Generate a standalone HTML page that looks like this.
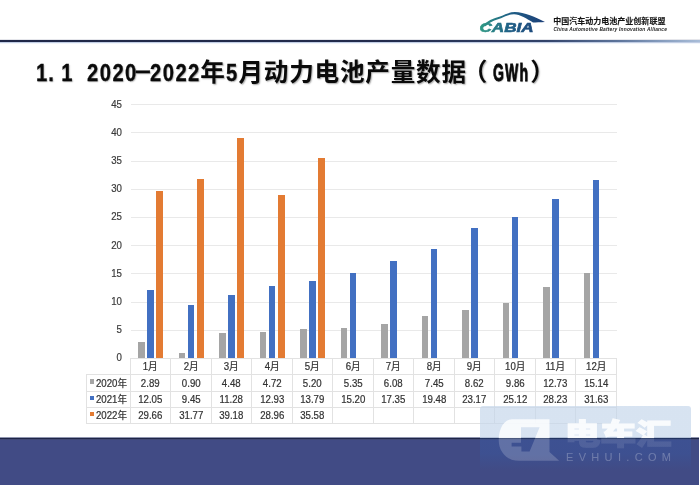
<!DOCTYPE html>
<html lang="zh"><head><meta charset="utf-8"><title>1.1 2020-2022年5月动力电池产量数据（GWh）</title>
<style>
html,body{margin:0;padding:0;}
body{width:700px;height:485px;position:relative;overflow:hidden;background:#fff;font-family:"Liberation Sans","Noto Sans CJK SC",sans-serif;}
.abs{position:absolute;}
.hline{position:absolute;left:0;top:40px;width:700px;height:2px;background:linear-gradient(90deg,#1f2747 0%,#222b4c 55%,#32436a 78%,#5b7299 88%,#8299bb 94%,#a9bdd8 100%);box-shadow:0 -1px 0 rgba(40,50,90,.12),0 1px 0 rgba(70,100,170,.28),0 2px 0 rgba(120,160,220,.1);}
.title{position:absolute;left:35px;top:56px;height:34px;line-height:34px;font-size:24.6px;font-weight:bold;color:#0a0a0a;white-space:nowrap;font-family:"Liberation Sans","Noto Sans CJK SC",sans-serif;text-shadow:1px 1px 1.5px rgba(0,0,0,.35);}
.title span{position:absolute;top:0;display:block;}
.title span.n11::first-letter{letter-spacing:1.21px;margin-right:7.86px;}
.title span.l{font-size:24.6px;transform-origin:0 50%;-webkit-text-stroke:.3px #0a0a0a;}
.ylab{position:absolute;left:100px;width:22px;text-align:right;font-size:10.4px;line-height:12px;color:#3a3a3a;-webkit-text-stroke:.2px #3a3a3a;transform:scaleX(.93);transform-origin:100% 50%;}
.grid{position:absolute;left:131px;width:485.5px;height:1px;background:#e9e9e9;}
.bar{position:absolute;width:6.8px;}
.tl{position:absolute;background:#e2e2e2;}
.cell{position:absolute;text-align:center;font-size:10.4px;line-height:16px;color:#333;white-space:nowrap;-webkit-text-stroke:.22px #333;transform:scaleX(.93);}
.footer{position:absolute;left:0;top:437px;width:698.5px;height:48px;background:linear-gradient(to bottom,#9096b0 0,#9096b0 1px,#1e2547 1px,#1e2547 2px,#424975 2px,#424975 3px,#414b85 3px);}
</style></head><body>

<svg class="abs" style="left:476px;top:8px" width="74" height="28" viewBox="476 8 74 28">
<defs><linearGradient id="lg" x1="480" y1="0" x2="545" y2="0" gradientUnits="userSpaceOnUse"><stop offset="0" stop-color="#2f9a84"/><stop offset=".45" stop-color="#1f5f86"/><stop offset="1" stop-color="#1c3f78"/></linearGradient></defs>
<path d="M482 27 C486 21 494 18 500 16.5 C506 14 510 12 515 12 C524 12.5 536 17 545 22 C540 22.3 536 22.5 533 22.6 C527 18.5 520 14.5 514 14.2 C509 14.3 505 16.5 501 18.3 C495 20 489 22.5 486 26 Z" fill="url(#lg)"/>
<text x="479.5" y="32.2" font-family="Liberation Sans, sans-serif" font-weight="bold" font-style="italic" font-size="12" fill="url(#lg)" stroke="url(#lg)" stroke-width=".55" textLength="54"  lengthAdjust="spacingAndGlyphs">CABIA</text>
</svg>
<div class="abs" style="left:553.2px;top:15.5px;font-size:8.03px;line-height:12px;font-weight:bold;color:#151515;-webkit-text-stroke:.12px #151515;white-space:nowrap;font-family:'Liberation Sans','Noto Sans CJK SC',sans-serif;">中国汽车动力电池产业创新联盟</div>
<div class="abs" style="left:553.4px;top:26px;font-size:4.85px;line-height:7px;font-weight:bold;font-style:italic;color:#222;white-space:nowrap;letter-spacing:.2px;">China Automotive Battery Innovation Alliance</div>
<div class="hline"></div>

<div class="title">
<span class="l n11" style="left:0.74px;transform:scaleX(0.82)">1.1</span>
<span class="l" style="left:51.50px;letter-spacing:1.798px;transform:scaleX(0.82);">2020</span>
<span class="l" style="left:101.03px;transform-origin:50% 50%;transform:scaleX(1.15) translateY(-2.6px)">–</span>
<span class="l" style="left:114.95px;letter-spacing:1.798px;transform:scaleX(0.82);">2022</span>
<span style="left:165.36px;letter-spacing:0.780px">年</span>
<span class="l" style="left:191.09px;letter-spacing:1.798px;transform:scaleX(0.82);">5</span>
<span style="left:203.43px;letter-spacing:0.780px">月</span>
<span style="left:228.81px;letter-spacing:0.780px">动力电池产量数据</span>
<span style="left:427.85px;letter-spacing:0.780px">（</span>
<span class="l" style="left:457.73px;letter-spacing:2.110px;transform:scaleX(0.57);-webkit-text-stroke:.85px #0a0a0a">GWh</span>
<span style="left:495.30px;letter-spacing:0.780px">）</span>
</div>

<div class="ylab" style="top:352.3px">0</div>
<div class="grid" style="top:329.6px"></div>
<div class="ylab" style="top:324.1px">5</div>
<div class="grid" style="top:301.5px"></div>
<div class="ylab" style="top:296.0px">10</div>
<div class="grid" style="top:273.3px"></div>
<div class="ylab" style="top:267.8px">15</div>
<div class="grid" style="top:245.1px"></div>
<div class="ylab" style="top:239.6px">20</div>
<div class="grid" style="top:216.9px"></div>
<div class="ylab" style="top:211.4px">25</div>
<div class="grid" style="top:188.8px"></div>
<div class="ylab" style="top:183.3px">30</div>
<div class="grid" style="top:160.6px"></div>
<div class="ylab" style="top:155.1px">35</div>
<div class="grid" style="top:132.4px"></div>
<div class="ylab" style="top:126.9px">40</div>
<div class="grid" style="top:104.3px"></div>
<div class="ylab" style="top:98.8px">45</div>
<div class="bar" style="left:138.1px;top:342.0px;height:16.3px;background:#a5a5a5"></div>
<div class="bar" style="left:147.2px;top:290.4px;height:67.9px;background:#4270c2"></div>
<div class="bar" style="left:156.2px;top:191.2px;height:167.1px;background:#e37b33"></div>
<div class="bar" style="left:178.6px;top:353.2px;height:5.1px;background:#a5a5a5"></div>
<div class="bar" style="left:187.7px;top:305.1px;height:53.2px;background:#4270c2"></div>
<div class="bar" style="left:196.8px;top:179.3px;height:179.0px;background:#e37b33"></div>
<div class="bar" style="left:219.1px;top:333.1px;height:25.2px;background:#a5a5a5"></div>
<div class="bar" style="left:228.2px;top:294.7px;height:63.6px;background:#4270c2"></div>
<div class="bar" style="left:237.2px;top:137.6px;height:220.7px;background:#e37b33"></div>
<div class="bar" style="left:259.6px;top:331.7px;height:26.6px;background:#a5a5a5"></div>
<div class="bar" style="left:268.7px;top:285.5px;height:72.8px;background:#4270c2"></div>
<div class="bar" style="left:277.8px;top:195.1px;height:163.2px;background:#e37b33"></div>
<div class="bar" style="left:300.1px;top:329.0px;height:29.3px;background:#a5a5a5"></div>
<div class="bar" style="left:309.2px;top:280.6px;height:77.7px;background:#4270c2"></div>
<div class="bar" style="left:318.3px;top:157.8px;height:200.5px;background:#e37b33"></div>
<div class="bar" style="left:340.6px;top:328.2px;height:30.1px;background:#a5a5a5"></div>
<div class="bar" style="left:349.7px;top:272.7px;height:85.6px;background:#4270c2"></div>
<div class="bar" style="left:381.1px;top:324.0px;height:34.3px;background:#a5a5a5"></div>
<div class="bar" style="left:390.2px;top:260.6px;height:97.7px;background:#4270c2"></div>
<div class="bar" style="left:421.6px;top:316.3px;height:42.0px;background:#a5a5a5"></div>
<div class="bar" style="left:430.7px;top:248.5px;height:109.8px;background:#4270c2"></div>
<div class="bar" style="left:462.1px;top:309.7px;height:48.6px;background:#a5a5a5"></div>
<div class="bar" style="left:471.2px;top:227.8px;height:130.5px;background:#4270c2"></div>
<div class="bar" style="left:502.5px;top:302.7px;height:55.6px;background:#a5a5a5"></div>
<div class="bar" style="left:511.6px;top:216.8px;height:141.5px;background:#4270c2"></div>
<div class="bar" style="left:543.0px;top:286.6px;height:71.7px;background:#a5a5a5"></div>
<div class="bar" style="left:552.1px;top:199.3px;height:159.0px;background:#4270c2"></div>
<div class="bar" style="left:583.5px;top:273.0px;height:85.3px;background:#a5a5a5"></div>
<div class="bar" style="left:592.6px;top:180.1px;height:178.2px;background:#4270c2"></div>
<div class="tl" style="left:130.3px;top:357.9px;width:486.0px;height:1px"></div>
<div class="tl" style="left:86px;top:374.2px;width:530.3px;height:1px"></div>
<div class="tl" style="left:86px;top:390.6px;width:530.3px;height:1px"></div>
<div class="tl" style="left:86px;top:407px;width:530.3px;height:1px"></div>
<div class="tl" style="left:86px;top:423.2px;width:530.3px;height:1px"></div>
<div class="tl" style="left:86px;top:374.2px;width:1px;height:50.0px"></div>
<div class="tl" style="left:129.8px;top:357.9px;width:1px;height:66.30000000000001px"></div>
<div class="tl" style="left:170.3px;top:357.9px;width:1px;height:66.30000000000001px"></div>
<div class="tl" style="left:210.8px;top:357.9px;width:1px;height:66.30000000000001px"></div>
<div class="tl" style="left:251.3px;top:357.9px;width:1px;height:66.30000000000001px"></div>
<div class="tl" style="left:291.8px;top:357.9px;width:1px;height:66.30000000000001px"></div>
<div class="tl" style="left:332.3px;top:357.9px;width:1px;height:66.30000000000001px"></div>
<div class="tl" style="left:372.8px;top:357.9px;width:1px;height:66.30000000000001px"></div>
<div class="tl" style="left:413.3px;top:357.9px;width:1px;height:66.30000000000001px"></div>
<div class="tl" style="left:453.8px;top:357.9px;width:1px;height:66.30000000000001px"></div>
<div class="tl" style="left:494.3px;top:357.9px;width:1px;height:66.30000000000001px"></div>
<div class="tl" style="left:534.8px;top:357.9px;width:1px;height:66.30000000000001px"></div>
<div class="tl" style="left:575.3px;top:357.9px;width:1px;height:66.30000000000001px"></div>
<div class="tl" style="left:615.8px;top:357.9px;width:1px;height:66.30000000000001px"></div>
<div class="cell" style="left:130.3px;top:359.3px;width:40.5px">1月</div>
<div class="cell" style="left:170.8px;top:359.3px;width:40.5px">2月</div>
<div class="cell" style="left:211.3px;top:359.3px;width:40.5px">3月</div>
<div class="cell" style="left:251.8px;top:359.3px;width:40.5px">4月</div>
<div class="cell" style="left:292.3px;top:359.3px;width:40.5px">5月</div>
<div class="cell" style="left:332.8px;top:359.3px;width:40.5px">6月</div>
<div class="cell" style="left:373.3px;top:359.3px;width:40.5px">7月</div>
<div class="cell" style="left:413.8px;top:359.3px;width:40.5px">8月</div>
<div class="cell" style="left:454.3px;top:359.3px;width:40.5px">9月</div>
<div class="cell" style="left:494.8px;top:359.3px;width:40.5px">10月</div>
<div class="cell" style="left:535.3px;top:359.3px;width:40.5px">11月</div>
<div class="cell" style="left:575.8px;top:359.3px;width:40.5px">12月</div>
<div class="cell" style="left:130.3px;top:375.6px;width:40.5px">2.89</div>
<div class="cell" style="left:170.8px;top:375.6px;width:40.5px">0.90</div>
<div class="cell" style="left:211.3px;top:375.6px;width:40.5px">4.48</div>
<div class="cell" style="left:251.8px;top:375.6px;width:40.5px">4.72</div>
<div class="cell" style="left:292.3px;top:375.6px;width:40.5px">5.20</div>
<div class="cell" style="left:332.8px;top:375.6px;width:40.5px">5.35</div>
<div class="cell" style="left:373.3px;top:375.6px;width:40.5px">6.08</div>
<div class="cell" style="left:413.8px;top:375.6px;width:40.5px">7.45</div>
<div class="cell" style="left:454.3px;top:375.6px;width:40.5px">8.62</div>
<div class="cell" style="left:494.8px;top:375.6px;width:40.5px">9.86</div>
<div class="cell" style="left:535.3px;top:375.6px;width:40.5px">12.73</div>
<div class="cell" style="left:575.8px;top:375.6px;width:40.5px">15.14</div>
<div class="cell" style="left:130.3px;top:392.0px;width:40.5px">12.05</div>
<div class="cell" style="left:170.8px;top:392.0px;width:40.5px">9.45</div>
<div class="cell" style="left:211.3px;top:392.0px;width:40.5px">11.28</div>
<div class="cell" style="left:251.8px;top:392.0px;width:40.5px">12.93</div>
<div class="cell" style="left:292.3px;top:392.0px;width:40.5px">13.79</div>
<div class="cell" style="left:332.8px;top:392.0px;width:40.5px">15.20</div>
<div class="cell" style="left:373.3px;top:392.0px;width:40.5px">17.35</div>
<div class="cell" style="left:413.8px;top:392.0px;width:40.5px">19.48</div>
<div class="cell" style="left:454.3px;top:392.0px;width:40.5px">23.17</div>
<div class="cell" style="left:494.8px;top:392.0px;width:40.5px">25.12</div>
<div class="cell" style="left:535.3px;top:392.0px;width:40.5px">28.23</div>
<div class="cell" style="left:575.8px;top:392.0px;width:40.5px">31.63</div>
<div class="cell" style="left:130.3px;top:408.4px;width:40.5px">29.66</div>
<div class="cell" style="left:170.8px;top:408.4px;width:40.5px">31.77</div>
<div class="cell" style="left:211.3px;top:408.4px;width:40.5px">39.18</div>
<div class="cell" style="left:251.8px;top:408.4px;width:40.5px">28.96</div>
<div class="cell" style="left:292.3px;top:408.4px;width:40.5px">35.58</div>
<div class="abs" style="left:90px;top:379.2px;width:4.4px;height:4.4px;background:#a5a5a5"></div>
<div class="cell" style="left:96px;top:375.6px;text-align:left;transform-origin:0 50%">2020年</div>
<div class="abs" style="left:90px;top:395.6px;width:4.4px;height:4.4px;background:#4270c2"></div>
<div class="cell" style="left:96px;top:392.0px;text-align:left;transform-origin:0 50%">2021年</div>
<div class="abs" style="left:90px;top:412.0px;width:4.4px;height:4.4px;background:#e37b33"></div>
<div class="cell" style="left:96px;top:408.4px;text-align:left;transform-origin:0 50%">2022年</div>
<div class="footer"></div>

<svg class="abs" style="left:0;top:0" width="700" height="485" viewBox="0 0 700 485">
<defs>
<linearGradient id="wmbox" x1="0" y1="406" x2="0" y2="485" gradientUnits="userSpaceOnUse">
<stop offset="0" stop-color="#4a80c0" stop-opacity=".22"/><stop offset=".404" stop-color="#4a80c0" stop-opacity=".22"/><stop offset=".407" stop-color="#2f66c0" stop-opacity=".22"/><stop offset=".6" stop-color="#2f66c0" stop-opacity=".2"/><stop offset=".82" stop-color="#2f66c0" stop-opacity="0"/></linearGradient>
<linearGradient id="wmfill" x1="0" y1="406" x2="0" y2="485" gradientUnits="userSpaceOnUse">
<stop offset="0" stop-color="#fff" stop-opacity=".8"/><stop offset=".404" stop-color="#fff" stop-opacity=".8"/><stop offset=".407" stop-color="#fff" stop-opacity=".19"/><stop offset="1" stop-color="#fff" stop-opacity=".19"/></linearGradient>
<linearGradient id="wmfill2" x1="0" y1="406" x2="0" y2="485" gradientUnits="userSpaceOnUse">
<stop offset="0" stop-color="#fff" stop-opacity=".85"/><stop offset=".404" stop-color="#fff" stop-opacity=".85"/><stop offset=".407" stop-color="#fff" stop-opacity=".1"/><stop offset="1" stop-color="#fff" stop-opacity=".1"/></linearGradient>
<mask id="wmmask2" maskUnits="userSpaceOnUse" x="470" y="400" width="230" height="85"><rect x="470" y="400" width="230" height="85" fill="url(#wmfill2)"/></mask>
<filter id="wmblur" x="-5%" y="-5%" width="110%" height="110%"><feGaussianBlur stdDeviation=".45"/></filter>
<mask id="wmmask" maskUnits="userSpaceOnUse" x="470" y="400" width="230" height="85"><rect x="470" y="400" width="230" height="85" fill="url(#wmfill)"/></mask>
</defs>
<path d="M483 406 H688 a3 3 0 0 1 3 3 V438 H480 V409 a3 3 0 0 1 3 -3 Z" fill="#fff" fill-opacity=".6"/>
<path d="M483 406 H688 a3 3 0 0 1 3 3 V485 H480 V409 a3 3 0 0 1 3 -3 Z" fill="url(#wmbox)"/>
<g mask="url(#wmmask)"><g filter="url(#wmblur)" fill="#fff" stroke="#fff">
<path stroke="none" fill-rule="evenodd" d="M512 419.3 H549.5 V452 L559.2 460.8 H519 C506 460.8 498.7 451 498.7 440 C498.7 428 504.5 419.3 512 419.3 Z M521 427.3 H539.6 L529.6 451.4 H521.4 V446.6 H511.6 V442.8 H521 Z"/>
</g></g>
<g mask="url(#wmmask2)"><g filter="url(#wmblur)" fill="#fff" stroke="#fff">
<text x="618.3" y="444.6" text-anchor="middle" font-family="Noto Sans CJK SC, sans-serif" font-weight="900" font-size="29" stroke-width="1.1" textLength="107" lengthAdjust="spacingAndGlyphs">电车汇</text>
</g></g>
<text x="566" y="461.4" font-family="Liberation Sans, sans-serif" font-size="11" fill="#fff" fill-opacity=".25" textLength="105" lengthAdjust="spacing" filter="url(#wmblur)">EVHUI.COM</text>
</svg>

</body></html>
